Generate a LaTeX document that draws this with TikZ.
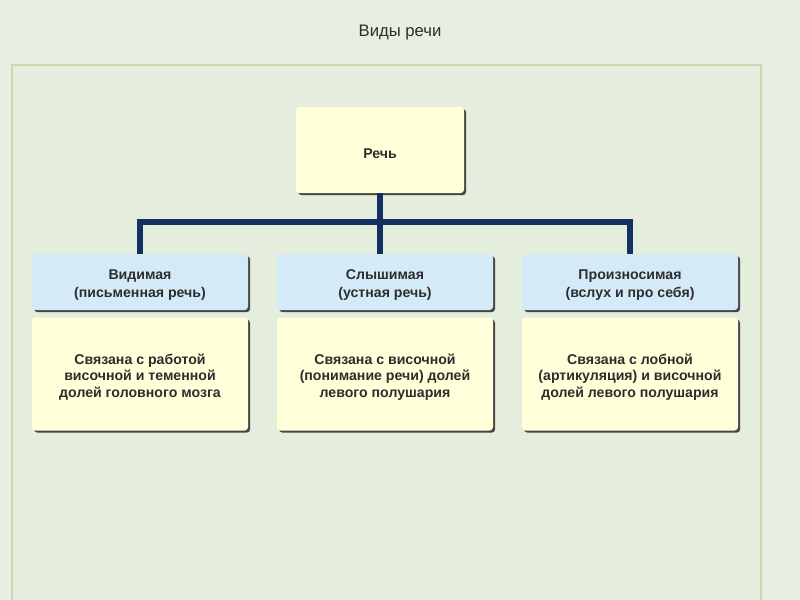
\documentclass[tikz,border=0pt]{standalone}
\usepackage{fontspec}
\setmainfont{Liberation Sans}
\definecolor{bgc}{RGB}{232,238,226}
\definecolor{framefill}{RGB}{229,237,220}
\definecolor{frameline}{RGB}{196,220,172}
\definecolor{yel}{RGB}{255,255,218}
\definecolor{blu}{RGB}{212,234,248}
\definecolor{navy}{RGB}{18,48,98}
\definecolor{txt}{RGB}{45,45,45}
\definecolor{shad}{RGB}{70,70,70}
\newcommand{\topstrut}{\rule{0pt}{12.5pt}}
\begin{document}
\begin{tikzpicture}[x=0.75pt,y=-0.75pt,
  boxbase/.style={rounded corners=2.5pt, inner sep=0pt, align=center, text=txt,
     preaction={fill=shad, transform canvas={xshift=1.6pt,yshift=-1.6pt}}},
  ybox/.style={boxbase, fill=yel, font=\fontsize{10.6}{12.4}\selectfont\bfseries},
  bbox/.style={boxbase, fill=blu, font=\fontsize{10.6}{13.4}\selectfont\bfseries},
  link/.style={draw=navy, line width=3.8pt}]
\useasboundingbox (0,0) rectangle (800,600);
\fill[bgc] (0,0) rectangle (800,600);
\begin{scope}
\clip (0,0) rectangle (800,600);
\draw[frameline, fill=framefill, line width=1.6pt] (12,65) rectangle (761,640);
\end{scope}
\node[text=txt, font=\fontsize{12.5}{14}\selectfont] (title) at (400,32) {Виды речи};

\node[ybox, minimum width=168*0.75pt, minimum height=86*0.75pt] (r) at (380,150) {\topstrut Речь};

\node[bbox, minimum width=216*0.75pt, minimum height=56*0.75pt] (b1) at (140,282) {\topstrut Видимая\\(письменная речь)};
\node[bbox, minimum width=216*0.75pt, minimum height=56*0.75pt] (b2) at (385,282) {\topstrut Слышимая\\(устная речь)};
\node[bbox, minimum width=216*0.75pt, minimum height=56*0.75pt] (b3) at (630,282) {\topstrut Произносимая\\(вслух и про себя)};

\node[ybox, minimum width=216*0.75pt, minimum height=113*0.75pt] (y1) at (140,374) {\topstrut Связана с работой\\височной и теменной\\долей головного мозга};
\node[ybox, minimum width=216*0.75pt, minimum height=113*0.75pt] (y2) at (385,374) {\topstrut Связана с височной\\(понимание речи) долей\\левого полушария};
\node[ybox, minimum width=216*0.75pt, minimum height=113*0.75pt] (y3) at (630,374) {\topstrut Связана с лобной\\(артикуляция) и височной\\долей левого полушария};

\coordinate (j) at (380,222);
\draw[link] (r.south) -- (r.south |- b2.north);
\draw[link, line join=miter] (b1.north) -- (b1.north |- j) -- (b3.north |- j) -- (b3.north);
\end{tikzpicture}
\end{document}
